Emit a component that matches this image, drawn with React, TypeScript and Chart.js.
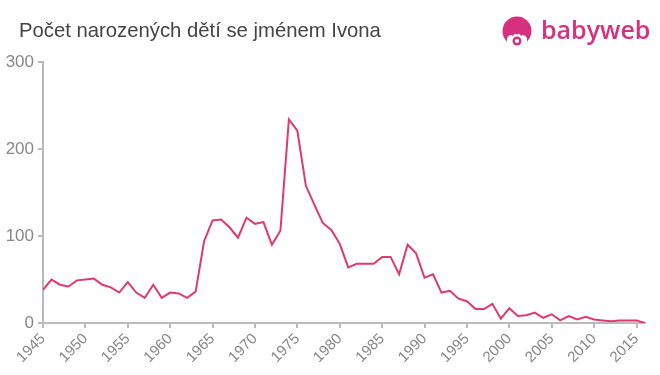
import React, { useEffect, useRef } from "react";
import { Chart, registerables } from "chart.js";

Chart.register(...registerables);

const years: number[] = [
  1945, 1946, 1947, 1948, 1949, 1950, 1951, 1952, 1953, 1954, 1955, 1956, 1957, 1958, 1959,
  1960, 1961, 1962, 1963, 1964, 1965, 1966, 1967, 1968, 1969, 1970, 1971, 1972, 1973, 1974,
  1975, 1976, 1977, 1978, 1979, 1980, 1981, 1982, 1983, 1984, 1985, 1986, 1987, 1988, 1989,
  1990, 1991, 1992, 1993, 1994, 1995, 1996, 1997, 1998, 1999, 2000, 2001, 2002, 2003, 2004,
  2005, 2006, 2007, 2008, 2009, 2010, 2011, 2012, 2013, 2014, 2015, 2016,
];

const births: number[] = [
  38, 50, 44, 42, 49, 50, 51, 44, 41, 35, 47, 35, 29, 44, 29,
  35, 34, 29, 36, 94, 118, 119, 110, 98, 121, 114, 116, 90, 106, 234,
  221, 158, 136, 115, 107, 91, 64, 68, 68, 68, 76, 76, 56, 90, 80,
  52, 56, 35, 37, 28, 25, 16, 16, 22, 5, 17, 8, 9, 12, 6,
  10, 3, 8, 4, 7, 4, 3, 2, 3, 3, 3, 0,
];

const yTicks: number[] = [0, 100, 200, 300];

const title = "Počet narozených dětí se jménem Ivona";
const brand = "babyweb";

export default function App() {
  const ref = useRef<HTMLCanvasElement | null>(null);

  useEffect(() => {
    if (!ref.current) return;
    const chart = new Chart(ref.current, {
      type: "line",
      data: {
        datasets: [
          {
            data: years.map((y, i) => ({ x: y, y: births[i] })),
            borderColor: "#e0396e",
            borderWidth: 2,
            pointRadius: 0,
            tension: 0,
            fill: false,
          },
        ],
      },
      options: {
        animation: false,
        responsive: false,
        maintainAspectRatio: false,
        layout: { padding: { left: 0, right: 15, top: 62, bottom: 0 } },
        plugins: { legend: { display: false }, tooltip: { enabled: false }, title: { display: false } },
        scales: {
          x: {
            type: "linear",
            min: 1945,
            max: 2016,
            afterBuildTicks: (scale: any) => {
              const t = [];
              for (let v = 1945; v <= 2015; v += 5) t.push({ value: v });
              scale.ticks = t;
            },
            afterFit: (scale: any) => {
              scale.height = 52;
            },
            grid: {
              display: true,
              drawOnChartArea: false,
              drawTicks: true,
              tickLength: 5,
              color: "#bbbbbb",
              lineWidth: 2,
            },
            border: { display: true, color: "#bbbbbb", width: 2 },
            ticks: {
              minRotation: 45,
              maxRotation: 45,
              autoSkip: false,
              padding: 2,
              color: "#888888",
              font: { family: "'Liberation Sans', Arial, sans-serif", size: 15 },
              callback: (v: any) => String(v),
            },
          },
          y: {
            min: 0,
            max: 300,
            afterBuildTicks: (scale: any) => {
              scale.ticks = yTicks.map((v) => ({ value: v }));
            },
            afterFit: (scale: any) => {
              scale.width = 43;
            },
            grid: {
              display: true,
              drawOnChartArea: false,
              drawTicks: true,
              tickLength: 5,
              color: "#bbbbbb",
              lineWidth: 2,
            },
            border: { display: true, color: "#bbbbbb", width: 2 },
            ticks: {
              padding: 4,
              color: "#888888",
              font: { family: "'Liberation Sans', Arial, sans-serif", size: 17 },
            },
          },
        },
      },
    });
    return () => chart.destroy();
  }, []);

  return (
    <div
      style={{
        position: "fixed",
        left: 0,
        top: 0,
        width: 660,
        height: 375,
        background: "#ffffff",
        fontFamily: "'Liberation Sans', Arial, sans-serif",
      }}
    >
      <canvas ref={ref} width={660} height={375} style={{ position: "absolute", left: 0, top: 0 }} />
      <div
        style={{
          position: "absolute",
          left: 19,
          top: 19,
          fontSize: 20.3,
          color: "#444444",
          whiteSpace: "nowrap",
        }}
      >
        {title}
      </div>
      <div style={{ position: "absolute", left: 501, top: 16, width: 32, height: 32 }}>
        <svg width="32" height="32" viewBox="0 0 32 32">
          <circle cx="16" cy="15" r="14.5" fill="#d6317f" />
          <path d="M6 22 Q9 17 12 20 Q14 16 16 19 Q18 16 20 20 Q23 17 26 22 L26 32 L6 32 Z" fill="#ffffff" />
          <circle cx="16" cy="25" r="4.5" fill="#d6317f" />
          <circle cx="16" cy="25" r="2" fill="#ffffff" />
        </svg>
      </div>
      <div
        style={{
          position: "absolute",
          left: 541,
          top: 12,
          fontSize: 25,
          color: "#d6317f",
          fontFamily: "'Open Sans', 'Liberation Sans', sans-serif",
          fontWeight: 600,
          whiteSpace: "nowrap",
        }}
      >
        {brand}
      </div>
    </div>
  );
}
